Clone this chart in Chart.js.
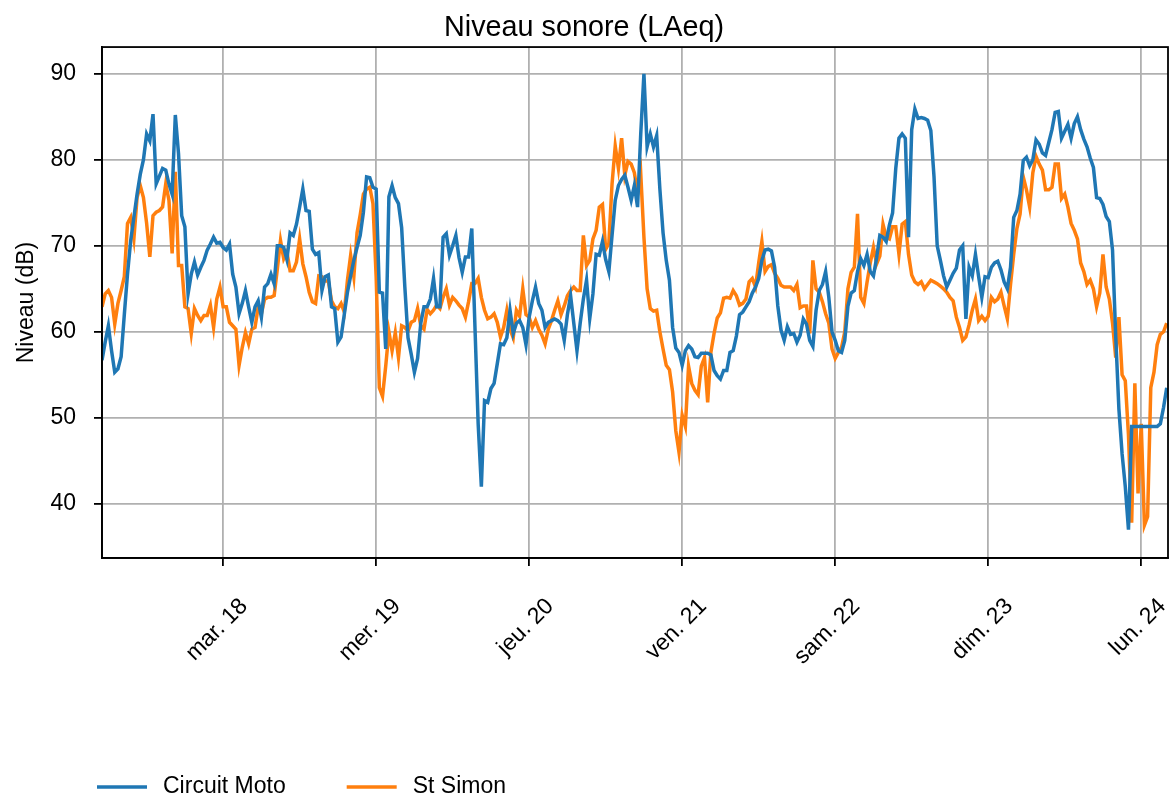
<!DOCTYPE html>
<html lang="fr">
<head>
<meta charset="utf-8">
<title>Niveau sonore (LAeq)</title>
<script src="https://cdn.jsdelivr.net/npm/chart.js@4.4.1/dist/chart.umd.min.js"></script>
<style>
  html, body { margin: 0; padding: 0; background: #fff; }
  #wrap { width: 1170px; height: 803px; }
</style>
</head>
<body>
<div id="wrap"><canvas id="chart" width="1170" height="803"></canvas></div>
<script>
// Mesures toutes les 30 min, à partir du lundi 17 mars 05:00
const START_HOUR = 5;
const STEP_HOURS = 0.5;

const dayTicks = [24, 48, 72, 96, 120, 144, 168];
const dayLabels = ['mar. 18', 'mer. 19', 'jeu. 20', 'ven. 21', 'sam. 22', 'dim. 23', 'lun. 24'];
const levelTicks = [40, 50, 60, 70, 80, 90];

const circuitMoto = [
  56.7, 58.8, 60.7, 57.8, 55.3, 55.7, 57.1, 62.0, 66.7, 70.6, 73.3, 76.0,
  78.3, 80.0, 83.0, 82.2, 85.3, 77.2, 78.1, 79.0, 78.8, 77.2, 76.0, 85.2,
  80.7, 73.5, 72.2, 64.4, 66.7, 68.1, 66.6, 67.5, 68.3, 69.5, 70.2, 71.0,
  70.3, 70.4, 69.8, 69.5, 70.2, 66.7, 65.2, 62.1, 63.3, 64.8, 62.9, 61.1,
  62.9, 63.6, 61.7, 65.2, 65.6, 66.7, 65.6, 70.0, 70.0, 69.8, 68.4, 71.5,
  71.2, 72.5, 74.5, 76.6, 74.1, 74.0, 69.6, 69.0, 69.2, 64.8, 66.4, 66.6,
  62.9, 62.7, 58.8, 59.4, 62.0, 64.6, 66.5, 68.3, 69.8, 71.2, 73.9, 78.0,
  77.9, 76.8, 76.6, 64.6, 64.5, 58.0, 75.7, 77.0, 75.6, 74.9, 72.1, 65.2,
  59.3, 57.4, 55.3, 56.9, 61.0, 62.9, 62.9, 63.8, 66.2, 62.9, 62.9, 71.0,
  71.4, 68.9, 70.0, 71.2, 68.6, 66.9, 68.7, 68.7, 72.0, 60.5, 49.3, 42.0,
  52.0, 51.8, 53.4, 54.0, 56.3, 58.6, 58.5, 59.3, 62.5, 59.8, 61.0, 61.3,
  60.5, 58.5, 61.7, 63.6, 65.2, 63.3, 62.5, 60.5, 61.1, 61.3, 61.5, 61.3,
  60.9, 59.0, 62.0, 64.2, 61.0, 57.8, 61.0, 63.8, 66.0, 61.5, 64.4, 69.0,
  68.9, 70.5, 68.4, 67.0, 71.2, 75.3, 77.0, 77.7, 78.2, 76.8, 75.3, 77.0,
  74.5, 83.0, 90.0, 81.5, 83.0, 81.5, 82.8, 76.6, 71.5, 68.3, 66.0, 60.5,
  58.1, 57.6, 56.1, 57.8, 58.4, 58.0, 57.1, 57.0, 57.5, 57.5, 57.5, 57.3,
  55.5, 54.9, 54.5, 55.5, 55.5, 57.6, 57.8, 59.5, 62.0, 62.3, 62.9, 63.5,
  64.5, 65.2, 66.2, 68.3, 69.5, 69.6, 69.4, 67.5, 63.0, 60.2, 59.0, 60.6,
  59.7, 59.8, 58.8, 59.6, 61.5, 60.9, 59.0, 58.3, 62.5, 64.8, 65.5, 67.0,
  64.0, 60.0, 59.0, 57.8, 57.6, 59.0, 63.0, 64.5, 64.8, 67.0, 68.5, 67.7,
  69.0, 67.0, 66.5, 68.6, 71.2, 71.0, 70.5, 72.4, 73.8, 79.0, 82.5, 83.0,
  82.5, 71.0, 83.5, 85.9, 84.8, 84.9, 84.8, 84.6, 83.4, 78.0, 70.0, 68.3,
  66.5, 65.2, 66.0, 66.8, 67.4, 69.5, 70.0, 61.5, 67.5, 66.5, 69.0, 66.4,
  64.0, 66.4, 66.3, 67.5, 68.0, 68.2, 67.2, 65.8, 65.0, 67.5, 73.3, 74.1,
  76.0, 79.9, 80.3, 79.3, 80.0, 82.3, 81.8, 80.8, 80.5, 82.0, 83.5, 85.5,
  85.6, 82.5, 83.3, 84.1, 82.5, 84.2, 85.0, 83.5, 82.4, 81.5, 80.2, 79.1,
  75.6, 75.5, 74.8, 73.4, 72.8, 69.5, 59.5, 51.0, 45.8, 42.0, 37.0, 49.0,
  49.0, 49.0, 49.0, 49.0, 49.0, 49.0, 49.0, 49.0, 49.3, 51.2, 53.5
];

const stSimon = [
  62.9, 64.4, 64.8, 64.0, 60.9, 63.3, 64.8, 66.4, 72.6, 73.3, 70.8, 75.6,
  77.0, 75.6, 72.6, 68.7, 73.5, 73.9, 74.1, 74.5, 77.2, 75.3, 69.1, 78.6,
  67.7, 67.7, 62.9, 62.7, 59.8, 62.7, 61.9, 61.3, 61.9, 61.9, 63.1, 60.5,
  63.8, 65.2, 62.9, 62.9, 61.1, 60.7, 60.3, 56.1, 58.2, 59.9, 58.6, 60.3,
  60.5, 62.9, 62.1, 63.8, 64.0, 64.0, 64.2, 67.3, 70.6, 68.5, 69.3, 67.1,
  67.1, 68.1, 70.8, 67.9, 66.4, 64.6, 63.5, 63.3, 66.5, 66.4, 65.9, 65.9,
  63.6, 62.9, 62.7, 63.3, 62.3, 66.0, 68.9, 66.4, 71.5, 73.6, 76.0, 76.6,
  76.8, 74.9, 66.4, 53.5, 52.5, 56.0, 60.0, 57.8, 59.9, 57.0, 60.7, 60.5,
  60.1, 61.1, 61.3, 62.7, 60.7, 60.3, 62.6, 62.1, 62.5, 63.1, 62.7, 64.0,
  65.0, 63.1, 64.0, 63.6, 63.1, 62.7, 61.7, 63.5, 65.6, 65.6, 66.2, 64.0,
  62.5, 61.5, 61.7, 62.1, 61.1, 59.4, 60.5, 62.5, 60.3, 59.3, 62.5, 61.8,
  65.0, 62.0, 61.7, 60.5, 61.3, 60.3, 59.6, 58.6, 60.3, 61.3, 62.5, 63.6,
  62.0, 63.0, 64.2, 64.8, 65.2, 64.8, 64.8, 71.2, 67.7, 68.3, 70.8, 71.8,
  74.5, 74.8, 69.6, 70.3, 77.2, 81.6, 79.0, 82.5, 78.2, 79.8, 79.5, 78.5,
  76.0, 78.4, 71.0, 65.0, 62.7, 62.4, 62.5, 60.0, 58.0, 56.1, 55.6, 53.0,
  48.5, 46.0, 50.3, 49.0, 56.0, 54.0, 53.2, 52.7, 56.0, 57.0, 51.8, 57.6,
  59.8, 61.6, 62.2, 63.9, 64.0, 63.9, 64.8, 64.2, 63.1, 63.3, 63.8, 65.8,
  66.2, 65.2, 68.0, 70.5, 67.0, 67.6, 67.8, 66.8, 66.2, 65.4, 65.2, 65.2,
  65.2, 64.8, 65.5, 62.8, 63.0, 63.0, 59.8, 68.3, 65.0, 64.6, 63.5, 62.1,
  61.0, 58.0, 56.9, 57.6, 58.2, 60.0, 65.0, 66.9, 67.5, 73.7, 64.0, 63.3,
  65.8, 68.0, 69.8, 67.9, 68.8, 72.5, 71.0, 70.8, 72.2, 72.2, 69.0, 72.5,
  72.8, 69.0, 66.6, 65.8, 65.5, 65.8, 65.0, 65.5, 66.0, 65.8, 65.6, 65.3,
  65.0, 64.6, 64.0, 63.6, 61.7, 60.5, 59.0, 59.4, 60.8, 62.5, 63.8, 61.3,
  61.8, 61.3, 61.8, 64.0, 63.5, 63.8, 64.6, 63.0, 61.5, 65.5, 69.0, 72.0,
  73.7, 78.0, 76.5, 74.5, 78.5, 80.4, 79.5, 78.8, 76.5, 76.5, 76.8, 79.5,
  79.5, 75.5, 76.0, 74.5, 72.6, 71.8, 70.8, 68.0, 67.0, 65.5, 66.0, 65.0,
  62.9, 64.5, 69.0, 65.2, 63.8, 61.0, 57.0, 61.7, 55.0, 54.3, 48.0, 37.8,
  54.0, 41.2, 49.3, 37.5, 38.5, 53.5, 55.3, 58.5, 59.7, 60.0, 61.0
];

const toPoints = (values) => values.map((v, i) => ({ x: START_HOUR + i * STEP_HOURS, y: v }));

const FONT = '"Liberation Sans", "DejaVu Sans", sans-serif';
Chart.defaults.font.family = FONT;
Chart.defaults.color = '#000';

// cadre complet autour de la zone de tracé
const framePlugin = {
    id: 'frame',
    afterDraw(chart) {
        const { ctx, chartArea: a } = chart;
        ctx.save();
        ctx.strokeStyle = '#000';
        ctx.lineWidth = 1.8;
        ctx.strokeRect(a.left, a.top, a.right - a.left, a.bottom - a.top);
        ctx.restore();
    }
};

// légende en bas, à la manière de matplotlib
const legendPlugin = {
    id: 'bottomLegend',
    afterDraw(chart) {
        const ctx = chart.ctx;
        const y = chart.height - 16;
        let x = chart.chartArea.left - 5;
        ctx.save();
        ctx.font = '23px ' + FONT;
        ctx.textBaseline = 'middle';
        chart.data.datasets.forEach(ds => {
            ctx.strokeStyle = ds.borderColor;
            ctx.lineWidth = 3.5;
            ctx.beginPath();
            ctx.moveTo(x, y);
            ctx.lineTo(x + 50, y);
            ctx.stroke();
            ctx.fillStyle = '#000';
            ctx.fillText(ds.label, x + 66, y);
            x += 66 + ctx.measureText(ds.label).width + 61;
        });
        ctx.restore();
    }
};

const ctx = document.getElementById('chart').getContext('2d');
new Chart(ctx, {
    type: 'line',
    data: {
        datasets: [{
            label: 'Circuit Moto',
            data: toPoints(circuitMoto),
            borderColor: '#1f77b4',
            borderWidth: 3.5,
            pointRadius: 0,
            tension: 0
        }, {
            label: 'St Simon',
            data: toPoints(stSimon),
            borderColor: '#ff7f0e',
            borderWidth: 3.5,
            pointRadius: 0,
            tension: 0
        }]
    },
    options: {
        responsive: false,
        animation: false,
        devicePixelRatio: 1,
        layout: { padding: { left: 0, right: 2, top: 0, bottom: 135 } },
        plugins: {
            legend: { display: false },
            tooltip: { enabled: false },
            title: {
                display: true,
                text: 'Niveau sonore (LAeq)',
                color: '#000',
                font: { size: 28.8, weight: 'normal' },
                padding: { top: 10.5, bottom: 2 }
            }
        },
        scales: {
            x: {
                type: 'linear',
                min: 5,
                max: 172.2,
                afterBuildTicks: (scale) => { scale.ticks = dayTicks.map(v => ({ value: v })); },
                afterFit: (scale) => {
                    scale.height = 110;
                    scale.paddingLeft = 0;
                    scale.paddingRight = 0;
                },
                ticks: {
                    callback: (value) => dayLabels[dayTicks.indexOf(value)],
                    minRotation: 45,
                    maxRotation: 45,
                    labelOffset: 21,
                    padding: 27,
                    font: { size: 23 },
                    color: '#000'
                },
                grid: {
                    color: '#b0b0b0',
                    lineWidth: 1.8,
                    tickLength: 8,
                    tickColor: '#000',
                    tickWidth: 1.8
                },
                border: { color: '#000', width: 1.8 }
            },
            y: {
                min: 33.7,
                max: 93.1,
                afterBuildTicks: (scale) => { scale.ticks = levelTicks.map(v => ({ value: v })); },
                afterFit: (scale) => {
                    scale.width = 102;
                    scale.paddingTop = 0;
                    scale.paddingBottom = 0;
                },
                ticks: {
                    padding: 18,
                    font: { size: 23 },
                    color: '#000'
                },
                title: {
                    display: true,
                    text: 'Niveau (dB)',
                    color: '#000',
                    font: { size: 23 },
                    padding: { top: 13, bottom: 0 }
                },
                grid: {
                    color: '#b0b0b0',
                    lineWidth: 1.8,
                    tickLength: 8,
                    tickColor: '#000',
                    tickWidth: 1.8
                },
                border: { color: '#000', width: 1.8 }
            }
        }
    },
    plugins: [framePlugin, legendPlugin]
});
</script>
</body>
</html>
